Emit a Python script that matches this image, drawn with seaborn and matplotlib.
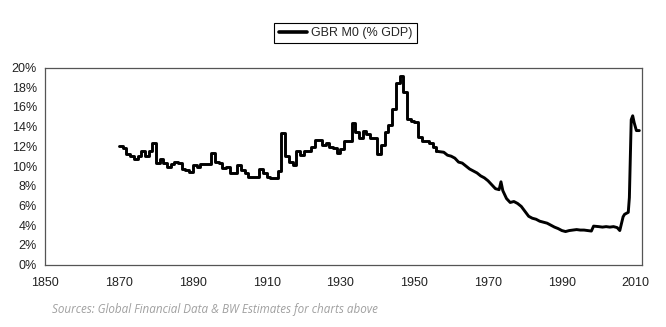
import matplotlib
matplotlib.use("Agg")
import matplotlib.pyplot as plt
import seaborn as sns
import pandas as pd
from matplotlib.ticker import FuncFormatter

years = [1870, 1871, 1872, 1873, 1874, 1875, 1876, 1877, 1878, 1879,
         1880, 1881, 1882, 1883, 1884, 1885, 1886, 1887, 1888, 1889,
         1890, 1891, 1892, 1893, 1894, 1895, 1896, 1897, 1898, 1899,
         1900, 1901, 1902, 1903, 1904, 1905, 1906, 1907, 1908, 1909,
         1910, 1911, 1912, 1913, 1914, 1915, 1916, 1917, 1918, 1919,
         1920, 1921, 1922, 1923, 1924, 1925, 1926, 1927, 1928, 1929,
         1930, 1931, 1932, 1933, 1934, 1935, 1936, 1937, 1938, 1939,
         1940, 1941, 1942, 1943, 1944, 1945, 1946, 1947, 1948, 1949,
         1950, 1951, 1952, 1953, 1954, 1955, 1956, 1957, 1958, 1959,
         1960, 1961, 1962, 1963, 1964, 1965, 1966, 1967, 1968, 1969,
         1970, 1971, 1972, 1973, 1973.5, 1974, 1975, 1976, 1977, 1978, 1979,
         1980, 1981, 1982, 1983, 1984, 1985, 1986, 1987, 1988, 1989,
         1990, 1991, 1992, 1993, 1994, 1995, 1996, 1997, 1998, 1998.6,
         2000, 2001, 2002, 2003, 2004, 2005, 2005.7, 2006.6, 2007, 2008,
         2008.3, 2008.8, 2009.2, 2009.6, 2010.2, 2011.0]

m0_pct = [12.0, 11.8, 11.2, 11.0, 10.7, 11.0, 11.5, 11.0, 11.5, 12.3,
          10.3, 10.7, 10.3, 9.9, 10.2, 10.4, 10.3, 9.7, 9.6, 9.4,
          10.1, 9.9, 10.2, 10.2, 10.2, 11.3, 10.4, 10.3, 9.8, 9.9,
          9.3, 9.3, 10.1, 9.6, 9.3, 8.9, 8.9, 8.9, 9.7, 9.3,
          8.9, 8.8, 8.75, 9.5, 13.4, 11.0, 10.4, 10.1, 11.5, 11.1,
          11.5, 11.5, 11.9, 12.6, 12.6, 12.1, 12.3, 11.95, 11.8, 11.3,
          11.7, 12.5, 12.5, 14.4, 13.5, 12.8, 13.6, 13.3, 12.8, 12.8,
          11.2, 12.1, 13.5, 14.2, 15.8, 18.4, 19.1, 17.5, 14.8, 14.6,
          14.5, 12.9, 12.5, 12.5, 12.3, 11.9, 11.5, 11.45, 11.4, 11.1,
          11.0, 10.8, 10.4, 10.3, 10.0, 9.7, 9.5, 9.3, 9.0, 8.8,
          8.5, 8.1, 7.7, 7.6, 8.4, 7.5, 6.7, 6.3, 6.4, 6.2, 5.9,
          5.4, 4.9, 4.7, 4.6, 4.4, 4.3, 4.2, 4.0, 3.8, 3.65,
          3.45, 3.35, 3.45, 3.5, 3.55, 3.5, 3.5, 3.45, 3.4, 3.9,
          3.85, 3.8, 3.85, 3.8, 3.85, 3.75, 3.45, 4.85, 5.1, 5.3,
          6.8, 14.7, 15.1, 14.4, 13.6, 13.6]

series_name = "GBR M0 (% GDP)"
x_ticks = [1850, 1870, 1890, 1910, 1930, 1950, 1970, 1990, 2010]
y_ticks = [0, 2, 4, 6, 8, 10, 12, 14, 16, 18, 20]
source_text = "Sources: Global Financial Data & BW Estimates for charts above"
step_until = 1956

df = pd.DataFrame({"year": years, "value": m0_pct})

sns.set_style("white")
plt.rcParams["font.family"] = ["Liberation Sans", "DejaVu Sans"]

fig = plt.figure(figsize=(6.66, 3.27), dpi=100)
ax = fig.add_axes([0.068, 0.191, 0.8964, 0.6025])

early = df[df["year"] <= step_until]
late = df[df["year"] >= step_until - 1]
sns.lineplot(data=early, x="year", y="value", ax=ax, color="black",
             linewidth=2.1, drawstyle="steps-post", estimator=None,
             sort=False, label=series_name, legend=False)
sns.lineplot(data=late.iloc[1:], x="year", y="value", ax=ax, color="black",
             linewidth=2.1, estimator=None, sort=False, legend=False)

ax.set_xlim(1850, 2011.8)
ax.set_ylim(0, 20)
ax.set_xticks(x_ticks)
ax.set_yticks(y_ticks)
ax.yaxis.set_major_formatter(FuncFormatter(lambda v, p: f"{int(v)}%"))
ax.set_xlabel("")
ax.set_ylabel("")
for s in ax.spines.values():
    s.set_color("#555555")
    s.set_linewidth(0.9)
ax.tick_params(axis="both", which="major", direction="out", length=4,
               width=0.8, color="#555555", labelsize=9, labelcolor="#222222",
               pad=2)
ax.tick_params(axis="x", pad=5)
ax.grid(False)

h, l = ax.get_legend_handles_labels()
leg = fig.legend(h[:1], l[:1], loc="center", bbox_to_anchor=(0.519, 0.899),
                 frameon=True, fancybox=False, edgecolor="black",
                 framealpha=1, fontsize=9, handlelength=2.3,
                 handletextpad=0.3, borderpad=0.35)
leg.get_frame().set_linewidth(0.8)
for line in leg.get_lines():
    line.set_linewidth(2.6)

fig.text(0.078, 0.052, source_text, ha="left", va="center",
         fontsize=8.4, style="italic", color="#a0a0a0",
         family=["Open Sans", "DejaVu Sans"])

fig.savefig("out.png", dpi=100, facecolor="white")
